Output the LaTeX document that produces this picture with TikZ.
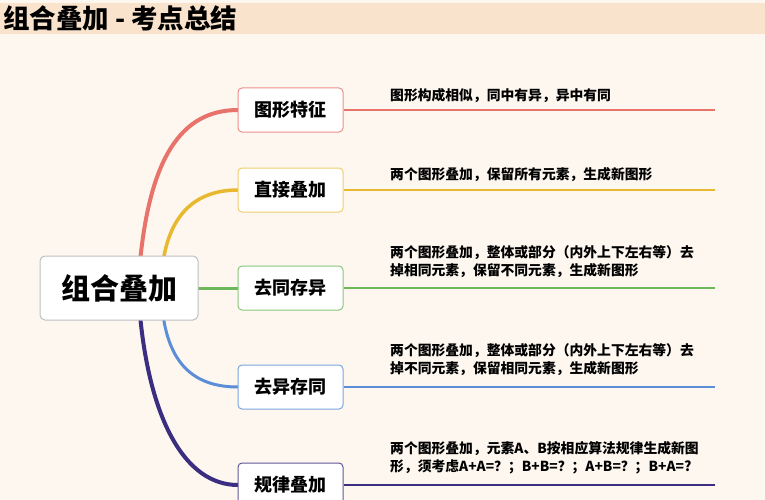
\documentclass[tikz,border=0pt]{standalone}
\usepackage{fontspec}
\setmainfont{Noto Sans CJK SC}
\begin{document}
\begin{tikzpicture}[x=1pt,y=-1pt,
  br/.style={draw=#1,rounded corners=4pt,fill=white,line width=1pt,minimum width=105pt,minimum height=44pt,font=\fontsize{18}{18}\selectfont\bfseries},
  desc/.style={anchor=north west,align=left,font=\fontsize{13.8}{18}\selectfont\bfseries,inner sep=0pt},
  lk/.style={line width=1.2pt,draw=#1}]
\definecolor{bg}{HTML}{FDF7F0}
\definecolor{band}{HTML}{FAE3CC}
\definecolor{cr}{HTML}{E8736B}
\definecolor{cy}{HTML}{E8B830}
\definecolor{cg}{HTML}{6BB85A}
\definecolor{cb}{HTML}{5B8ED6}
\definecolor{cp}{HTML}{3B2D80}
\fill[bg] (0,0) rectangle (765,500);
\useasboundingbox (0,0) rectangle (765,500);
\fill[band] (0,3) rectangle (765,34);
\node[anchor=west,inner sep=0pt,font=\fontsize{26.5}{26.5}\selectfont\bfseries] (title) at (3,18) {组合叠加 - 考点总结};
% curves
\draw[cr,line width=4pt] (140,262) .. controls (150,160) and (180,110) .. (238,110);
\draw[cy,line width=3.5pt] (163,262) .. controls (170,215) and (195,190) .. (238,190);
\draw[cg,line width=3pt] (195,288) -- (238,288);
\draw[cb,line width=3pt] (163,315) .. controls (170,365) and (195,387) .. (238,387);
\draw[cp,line width=4pt] (140,315) .. controls (150,420) and (185,485) .. (238,485);
\node[draw=black!25,rounded corners=5pt,fill=white,line width=1pt,minimum width=158pt,minimum height=64pt,font=\fontsize{29}{29}\selectfont\bfseries] (c) at (119,288) {组合叠加};
\node[br=cr!80] (b1) at (290.5,110) {图形特征};
\node[br=cy!70] (b2) at (290.5,190) {直接叠加};
\node[br=cg!80] (b3) at (290.5,288) {去同存异};
\node[br=cb!80] (b4) at (290.5,387) {去异存同};
\node[br=cp!80] (b5) at (290.5,485) {规律叠加};
\coordinate (e1) at (715,110);\coordinate (e2) at (715,190);\coordinate (e3) at (715,288);
\coordinate (e4) at (715,387);\coordinate (e5) at (715,485);
\draw[lk=cr] (b1.east) -- (e1);
\draw[lk=cy] (b2.east) -- (e2);
\draw[lk=cg] (b3.east) -- (e3);
\draw[lk=cb] (b4.east) -- (e4);
\draw[lk=cp] (b5.east) -- (e5);
\node[desc] (t1) at (390,88) {图形构成相似，同中有异，异中有同};
\node[desc] (t2) at (390,167) {两个图形叠加，保留所有元素，生成新图形};
\node[desc] (t3) at (390,245) {两个图形叠加，整体或部分（内外上下左右等）去\\掉相同元素，保留不同元素，生成新图形};
\node[desc] (t4) at (390,343) {两个图形叠加，整体或部分（内外上下左右等）去\\掉不同元素，保留相同元素，生成新图形};
\node[desc] (t5) at (390,441) {两个图形叠加，元素A、B按相应算法规律生成新图\\形，须考虑A+A=？；B+B=？；A+B=？；B+A=?};
\end{tikzpicture}
\end{document}
